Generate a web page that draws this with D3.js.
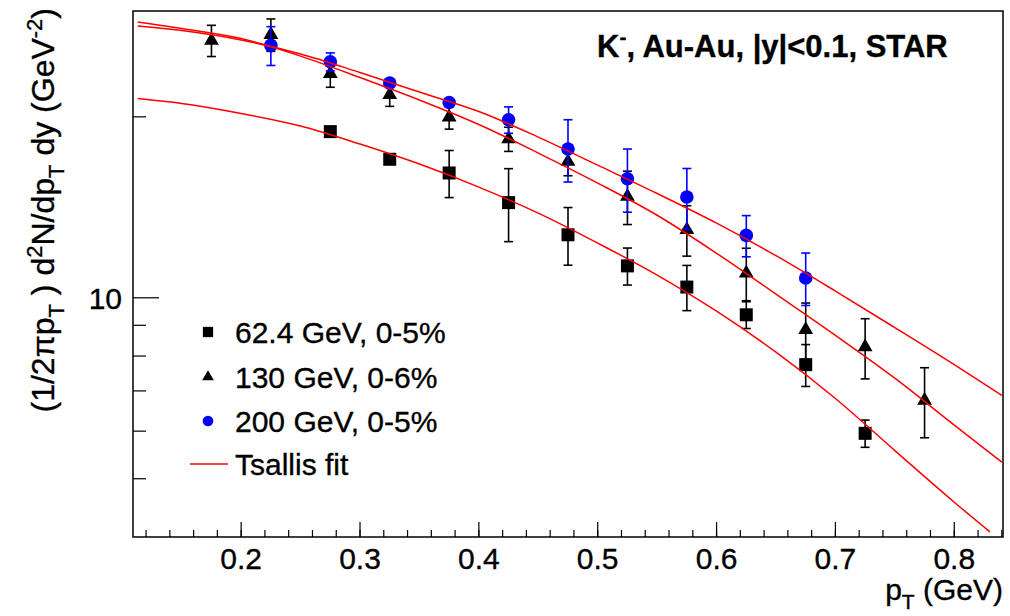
<!DOCTYPE html>
<html>
<head>
<meta charset="utf-8">
<script src="https://cdn.jsdelivr.net/npm/d3@7"></script>
<style>
  body { margin: 0; background: #fff; }
  text { font-family: "Liberation Sans", Arial, Helvetica, sans-serif; fill: #000; stroke: #000; stroke-width: 0.35px; }
</style>
</head>
<body>
<svg id="chart" width="1010" height="616"></svg>
<script>
// K- spectra, Au-Au, |y|<0.1
var pt62 = [0.275, 0.325, 0.375, 0.425, 0.475, 0.525, 0.575, 0.625, 0.675, 0.725];
var y62 = [18.9, 17.0, 16.13, 14.4, 12.73, 11.3, 10.42, 9.37, 7.74, 5.95];
var e62 = [0.2, 0.2, 1.45, 2.0, 1.4, 0.8, 0.9, 0.48, 0.62, 0.31];

var pt130 = [0.175, 0.225, 0.275, 0.325, 0.375, 0.425, 0.475, 0.525, 0.575, 0.625, 0.675, 0.725, 0.775];
var y130 = [26.8, 27.4, 23.6, 21.77, 19.98, 18.37, 16.86, 14.74, 12.98, 10.99, 8.85, 8.28, 6.75];
var e130 = [1.6, 1.7, 1.2, 0.95, 0.9, 0.85, 0.9, 1.5, 1.25, 1.1, 0.95, 0.95, 0.9];

var pt200 = [0.225, 0.275, 0.325, 0.375, 0.425, 0.475, 0.525, 0.575, 0.625, 0.675];
var y200 = [26.3, 24.7, 22.76, 21.13, 19.78, 17.68, 15.78, 14.71, 12.70, 10.79];
var e200 = [1.95, 0.85, 0.4, 0.5, 1.0, 2.1, 1.9, 1.7, 1.0, 1.08];

// Tsallis fit curves, sampled from the figure
var fitPt = [0.113, 0.15, 0.2, 0.25, 0.3, 0.35, 0.4, 0.45, 0.5, 0.55, 0.6, 0.65, 0.7, 0.75, 0.8, 0.84];
var fit200 = [28.32, 27.84, 26.85, 25.44, 23.70, 21.99, 20.41, 18.51, 16.62, 14.91, 13.31, 11.75, 10.26, 8.92, 7.74, 6.88];
var fit130 = [28.76, 28.06, 27.00, 25.24, 23.25, 21.33, 19.42, 17.41, 15.52, 13.72, 11.86, 10.14, 8.66, 7.35, 6.14, 5.33];
var fitPt62 = [0.113, 0.15, 0.2, 0.25, 0.3, 0.35, 0.4, 0.45, 0.5, 0.55, 0.6, 0.65, 0.7, 0.75, 0.8, 0.83];
var fit62 = [21.45, 21.05, 20.26, 19.31, 18.02, 16.69, 15.28, 13.83, 12.33, 10.91, 9.50, 8.12, 6.80, 5.57, 4.57, 4.08];

var xTicks = [0.2, 0.3, 0.4, 0.5, 0.6, 0.7, 0.8];
var yMinorTicks = [5, 6, 7, 8, 9, 20];
var yLabelTicks = [10];
var legendLabels = ["62.4 GeV, 0-5%", "130 GeV, 0-6%", "200 GeV, 0-5%", "Tsallis fit"];

var svg = d3.select("#chart");
var frame = {left: 133, right: 1003, top: 11, bottom: 537};

var x = d3.scaleLinear().domain([0.109, 0.841]).range([frame.left, frame.right]);
var y = d3.scaleLog().domain([4, 30]).range([frame.bottom, frame.top]);

svg.append("defs").append("clipPath").attr("id", "clip")
  .append("rect")
  .attr("x", frame.left).attr("y", frame.top)
  .attr("width", frame.right - frame.left).attr("height", frame.bottom - frame.top);

// frame
svg.append("rect")
  .attr("x", frame.left).attr("y", frame.top)
  .attr("width", frame.right - frame.left).attr("height", frame.bottom - frame.top)
  .attr("fill", "none").attr("stroke", "#000").attr("stroke-width", 1.5);

// x axis: major every 0.1, minor every 0.02
var xMinor = d3.range(0.12, 0.8405, 0.02);
var xa = svg.append("g").attr("class", "axis axis--x");
xa.selectAll(".minor").data(xMinor).enter().append("line")
  .attr("x1", function(d) { return x(d); }).attr("x2", function(d) { return x(d); })
  .attr("y1", frame.bottom).attr("y2", frame.bottom - 7)
  .attr("stroke", "#000").attr("stroke-width", 1.2);
xa.selectAll(".major").data(xTicks).enter().append("line")
  .attr("x1", function(d) { return x(d); }).attr("x2", function(d) { return x(d); })
  .attr("y1", frame.bottom).attr("y2", frame.bottom - 15)
  .attr("stroke", "#000").attr("stroke-width", 1.2);
xa.selectAll("text").data(xTicks).enter().append("text")
  .attr("x", function(d) { return x(d); })
  .attr("y", 569)
  .attr("text-anchor", "middle")
  .style("font-size", "30px")
  .text(function(d) { return d3.format(".1f")(d); });

var xt = svg.append("text")
  .attr("x", frame.right).attr("y", 600)
  .attr("text-anchor", "end")
  .style("font-size", "30px");
xt.append("tspan").text("p");
xt.append("tspan").attr("dy", 9).style("font-size", "21px").text("T");
xt.append("tspan").attr("dy", -9).text(" (GeV)");

// y axis (log)
var ya = svg.append("g").attr("class", "axis axis--y");
ya.selectAll(".minor").data(yMinorTicks).enter().append("line")
  .attr("x1", frame.left).attr("x2", frame.left + 13)
  .attr("y1", function(d) { return y(d); }).attr("y2", function(d) { return y(d); })
  .attr("stroke", "#000").attr("stroke-width", 1.2);
ya.selectAll(".major").data(yLabelTicks).enter().append("line")
  .attr("x1", frame.left).attr("x2", frame.left + 26)
  .attr("y1", function(d) { return y(d); }).attr("y2", function(d) { return y(d); })
  .attr("stroke", "#000").attr("stroke-width", 1.2);
ya.selectAll("text").data(yLabelTicks).enter().append("text")
  .attr("x", 122)
  .attr("y", function(d) { return y(d) + 11; })
  .attr("text-anchor", "end")
  .style("font-size", "30px")
  .text(function(d) { return d; });

var yt = svg.append("text")
  .attr("transform", "translate(54,8) rotate(-90)")
  .attr("text-anchor", "end")
  .style("font-size", "32px");
yt.append("tspan").text("(1/2\u03c0p");
yt.append("tspan").attr("dy", 10).style("font-size", "22px").text("T");
yt.append("tspan").attr("dy", -10).text(" ) d");
yt.append("tspan").attr("dy", -12).style("font-size", "22px").text("2");
yt.append("tspan").attr("dy", 12).text("N/dp");
yt.append("tspan").attr("dy", 10).style("font-size", "22px").text("T");
yt.append("tspan").attr("dy", -10).text(" dy (GeV");
yt.append("tspan").attr("dy", -12).style("font-size", "22px").text("-2");
yt.append("tspan").attr("dy", 12).text(")");

// title
var tt = svg.append("text")
  .attr("x", 597).attr("y", 57)
  .style("font-size", "31px").style("font-weight", "bold");
tt.append("tspan").text("K");
tt.append("tspan").attr("dy", -13).style("font-size", "21px").text("-");
tt.append("tspan").attr("dy", 13).text(", Au-Au, |y|<0.1, STAR");

// data
function series(pts, vals, errs) {
  return pts.map(function(p, i) { return {x: p, y: vals[i], e: errs[i]}; });
}
var sets = [
  {data: series(pt62, y62, e62), color: "#000", shape: d3.symbolSquare, size: 169},
  {data: series(pt130, y130, e130), color: "#000", shape: d3.symbolTriangle, size: 95},
  {data: series(pt200, y200, e200), color: "#0000ff", shape: d3.symbolCircle, size: 145}
];

var plot = svg.append("g");
sets.forEach(function(s) {
  var g = plot.append("g");
  var bars = s.data.filter(function(d) { return y(d.y - d.e) - y(d.y + d.e) > 13; });
  g.selectAll(".bar").data(bars).enter().append("line")
    .attr("x1", function(d) { return x(d.x); }).attr("x2", function(d) { return x(d.x); })
    .attr("y1", function(d) { return y(d.y + d.e); }).attr("y2", function(d) { return y(d.y - d.e); })
    .attr("stroke", s.color).attr("stroke-width", 1.6);
  [1, -1].forEach(function(sg) {
    g.selectAll(".cap" + sg).data(bars).enter().append("line")
      .attr("x1", function(d) { return x(d.x) - 4.5; }).attr("x2", function(d) { return x(d.x) + 4.5; })
      .attr("y1", function(d) { return y(d.y + sg * d.e); }).attr("y2", function(d) { return y(d.y + sg * d.e); })
      .attr("stroke", s.color).attr("stroke-width", 1.6);
  });
  g.selectAll(".pt").data(s.data).enter().append("path")
    .attr("transform", function(d) { return "translate(" + x(d.x) + "," + y(d.y) + ")"; })
    .attr("d", d3.symbol().type(s.shape).size(s.size))
    .attr("fill", s.color);
});

// fit curves
var line = d3.line()
  .curve(d3.curveMonotoneX)
  .x(function(d) { return x(d[0]); })
  .y(function(d) { return y(d[1]); });

var fits = [
  d3.zip(fitPt, fit200),
  d3.zip(fitPt, fit130),
  d3.zip(fitPt62, fit62)
];
svg.append("g").attr("clip-path", "url(#clip)")
  .selectAll("path").data(fits).enter().append("path")
  .attr("d", line)
  .attr("fill", "none")
  .attr("stroke", "#ff0000")
  .attr("stroke-width", 1.5);

// legend
var legendY = [332, 377, 421, 464];
var lg = svg.append("g");
var legendShapes = [sets[0], sets[1], sets[2]];
legendShapes.forEach(function(s, i) {
  lg.append("path")
    .attr("transform", "translate(208," + legendY[i] + ")")
    .attr("d", d3.symbol().type(s.shape).size(s.size * 0.62))
    .attr("fill", s.color);
});
lg.append("line")
  .attr("x1", 190).attr("x2", 228)
  .attr("y1", legendY[3]).attr("y2", legendY[3])
  .attr("stroke", "#ff0000").attr("stroke-width", 1.5);
lg.selectAll("text").data(legendLabels).enter().append("text")
  .attr("x", 235)
  .attr("y", function(d, i) { return legendY[i] + 11; })
  .style("font-size", "30px")
  .text(function(d) { return d; });
</script>
</body>
</html>
